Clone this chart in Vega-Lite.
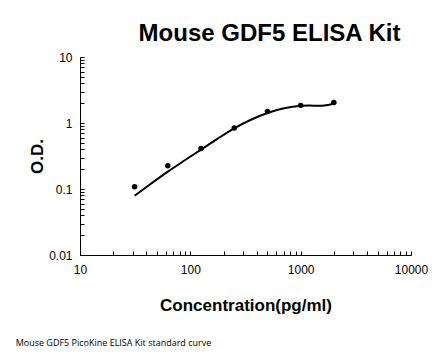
{
  "$schema": "https://vega.github.io/schema/vega-lite/v6.json",
  "padding": {"left": 15, "top": 22, "right": 5, "bottom": 5},
  "background": "white",
  "config": {"view": {"stroke": null}, "font": "Liberation Sans", "concat": {"spacing": 0}},
  "title": {"text": "Mouse GDF5 PicoKine ELISA Kit standard curve", "orient": "bottom", "anchor": "start", "frame": "bounds", "fontSize": 9, "fontWeight": "normal", "font": "Open Sans", "color": "black", "dx": -13, "offset": 26},
  "datasets": {
    "curve": [
      {"conc": 31.25, "od": 0.079},
      {"conc": 44.2, "od": 0.121},
      {"conc": 62.5, "od": 0.183},
      {"conc": 88.4, "od": 0.27},
      {"conc": 125, "od": 0.395},
      {"conc": 177, "od": 0.58},
      {"conc": 250, "od": 0.83},
      {"conc": 354, "od": 1.12},
      {"conc": 500, "od": 1.42},
      {"conc": 707, "od": 1.67},
      {"conc": 1000, "od": 1.82},
      {"conc": 1200, "od": 1.84},
      {"conc": 1450, "od": 1.82},
      {"conc": 1700, "od": 1.86},
      {"conc": 2000, "od": 1.98}
    ],
    "points": [
      {"conc": 31.25, "od": 0.108},
      {"conc": 62.5, "od": 0.225},
      {"conc": 125, "od": 0.41},
      {"conc": 250, "od": 0.84},
      {"conc": 500, "od": 1.49},
      {"conc": 1000, "od": 1.85},
      {"conc": 2000, "od": 2.05}
    ]
  },
  "vconcat": [
    {
      "width": 331,
      "height": 198,
      "title": {"text": "Mouse GDF5 ELISA Kit", "fontSize": 24, "fontWeight": "bold", "anchor": "middle", "dx": 24, "offset": 5, "color": "black", "font": "Liberation Sans"},
      "encoding": {
        "x": {
          "field": "conc", "type": "quantitative",
          "scale": {"type": "log", "domain": [10, 10000], "nice": false},
          "axis": {
            "title": "Concentration(pg/ml)",
            "titleFontSize": 17, "titleFontWeight": "bold", "titleColor": "black", "titlePadding": 22,
            "values": [10,20,30,40,50,60,70,80,90,100,200,300,400,500,600,700,800,900,1000,2000,3000,4000,5000,6000,7000,8000,9000,10000],
            "format": "~g",
            "labelExpr": "indexof([10,100,1000,10000], datum.value) >= 0 ? datum.label : ''",
            "labelFlush": false, "labelOverlap": false,
            "labelFontSize": 12, "labelColor": "black", "labelPadding": 13,
            "tickSize": -4, "tickColor": "black", "domainColor": "black", "grid": false
          }
        },
        "y": {
          "field": "od", "type": "quantitative",
          "scale": {"type": "log", "domain": [0.01, 10], "nice": false},
          "axis": {
            "title": "O.D.",
            "titleFontSize": 17, "titleFontWeight": "bold", "titleColor": "black", "titlePadding": 2,
            "values": [0.01,0.02,0.03,0.04,0.05,0.06,0.07,0.08,0.09,0.1,0.2,0.3,0.4,0.5,0.6,0.7,0.8,0.9,1,2,3,4,5,6,7,8,9,10],
            "format": "~g",
            "labelExpr": "indexof([0.01,0.1,1,10], datum.value) >= 0 ? datum.label : ''",
            "labelFlush": false, "labelOverlap": false,
            "labelFontSize": 12, "labelColor": "black", "labelPadding": 12,
            "tickSize": -4, "tickColor": "black", "domainColor": "black", "grid": false
          }
        }
      },
      "layer": [
        {
          "data": {"name": "curve"},
          "mark": {"type": "line", "interpolate": "monotone", "color": "black", "strokeWidth": 2}
        },
        {
          "data": {"name": "points"},
          "mark": {"type": "point", "filled": true, "color": "black", "size": 30, "opacity": 1}
        }
      ]
    }
  ]
}
